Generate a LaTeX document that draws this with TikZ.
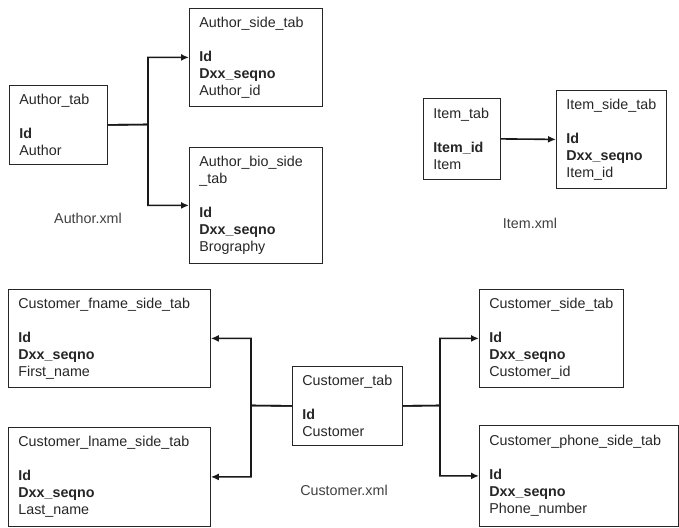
\documentclass[tikz,border=0pt]{standalone}
\usepackage{fontspec}
\setmainfont{Liberation Sans}
\usetikzlibrary{shapes,arrows.meta,positioning}

\begin{document}
\begin{tikzpicture}[x=1pt, y=-1pt,
  tab/.style={draw=black!85, line width=0.8pt, rectangle, anchor=north west, align=left,
    inner xsep=10pt, inner ysep=0pt, text=black!85, font=\fontsize{14.3}{17}\selectfont},
  link/.style={line width=1.6pt, black!90, -{Latex[length=8pt,width=7pt]}},
  xmlname/.style={text=black!75, font=\fontsize{14.3}{17}\selectfont}]
  \useasboundingbox (0,0) rectangle (679,527);
  \node[tab, text width=78pt, minimum height=79pt] (atab) at (9,85) {Author\_tab\\[17pt]\textbf{Id}\\Author};
  \node[tab, text width=113pt, minimum height=98pt] (aside) at (189,8) {Author\_side\_tab\\[17pt]\textbf{Id}\\\textbf{Dxx\_seqno}\\Author\_id};
  \node[tab, text width=113pt, minimum height=116pt] (abio) at (189,147) {Author\_bio\_side\\\_tab\\[17pt]\textbf{Id}\\\textbf{Dxx\_seqno}\\Brography};
  \node[xmlname] (axml) at (88,218) {Author.xml};
  \coordinate (ajunc) at (148,124.5);
  \draw[link] (atab.east) -- (ajunc) |- (aside.west);
  \draw[link] (atab.east) -- (ajunc) |- (abio.west);

  \node[tab, text width=57pt, minimum height=81pt] (itab) at (423,98) {Item\_tab\\[17pt]\textbf{Item\_id}\\Item};
  \node[tab, text width=90pt, minimum height=98pt] (iside) at (556,90) {Item\_side\_tab\\[17pt]\textbf{Id}\\\textbf{Dxx\_seqno}\\Item\_id};
  \node[xmlname] (ixml) at (530,223) {Item.xml};
  \draw[link] (itab.east) -- (iside.west);

  \node[tab, text width=182pt, minimum height=98pt] (cfname) at (8,289) {Customer\_fname\_side\_tab\\[17pt]\textbf{Id}\\\textbf{Dxx\_seqno}\\First\_name};
  \node[tab, text width=182pt, minimum height=99pt] (clname) at (8,427) {Customer\_lname\_side\_tab\\[17pt]\textbf{Id}\\\textbf{Dxx\_seqno}\\Last\_name};
  \node[tab, text width=90pt, minimum height=79pt] (ctab) at (292,366) {Customer\_tab\\[17pt]\textbf{Id}\\Customer};
  \node[tab, text width=124pt, minimum height=98pt] (cside) at (479,289) {Customer\_side\_tab\\[17pt]\textbf{Id}\\\textbf{Dxx\_seqno}\\Customer\_id};
  \node[tab, text width=179pt, minimum height=101pt] (cphone) at (479,425) {Customer\_phone\_side\_tab\\[17pt]\textbf{Id}\\\textbf{Dxx\_seqno}\\Phone\_number};
  \node[xmlname] (cxml) at (344,490) {Customer.xml};
  \coordinate (cljunc) at (251,405.5);
  \coordinate (crjunc) at (440,405.5);
  \draw[link] (ctab.west) -- (cljunc) |- (cfname.east);
  \draw[link] (ctab.west) -- (cljunc) |- (clname.east);
  \draw[link] (ctab.east) -- (crjunc) |- (cside.west);
  \draw[link] (ctab.east) -- (crjunc) |- (cphone.west);
\end{tikzpicture}
\end{document}
